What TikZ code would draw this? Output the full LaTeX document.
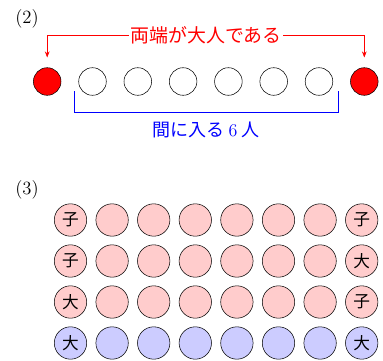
\documentclass[tikz,border=0pt]{standalone}
\usepackage{fontspec}
\newfontfamily\jfont{Noto Sans CJK JP}
\usetikzlibrary{arrows.meta, positioning}

\begin{document}
\begin{tikzpicture}[
  x=0.75pt, y=-0.75pt,
  every node/.style={font=\fontsize{14}{16}\selectfont},
  seat/.style={circle, draw, minimum size=20.7pt, inner sep=0pt},
  adult/.style={seat, fill=red},
  child/.style={seat, fill=white},
  row seat/.style={circle, draw, minimum size=24.3pt, inner sep=0pt, font=\jfont\fontsize{12.5}{14}\selectfont},
  note/.style={font=\jfont\fontsize{14.2}{16}\selectfont, inner sep=1pt}
]
\useasboundingbox (0,0) rectangle (383,361);

% (2)
\node (lab2) at (27,19) {(2)};
\foreach \i in {0,...,7} {
  \ifnum\i=0 \def\kind{adult}\else\ifnum\i=7 \def\kind{adult}\else\def\kind{child}\fi\fi
  \node[\kind] (s\i) at (47.2+45.3*\i,81.5) {};
}
\node[note, text=red, fill=white] (both) at (206,35) {両端が大人である};
\draw[red, -{Stealth[length=4.5pt,width=3.5pt]}, shorten >=7.5pt] (both.west) -| (s0.north);
\draw[red, -{Stealth[length=4.5pt,width=3.5pt]}, shorten >=7.5pt] (both.east) -| (s7.north);
\coordinate (brL) at (74,91);
\coordinate (brR) at (338,91);
\draw[blue] (brL) -- ++(0,21.7) -| (brR);
\node[note, text=blue, font=\jfont\fontsize{13.5}{15}\selectfont] (inner) at (206,130) {間に入る {\rmfamily 6} 人};

% (3)
\node (lab3) at (27,190) {(3)};
\foreach \r/\first/\last/\col in {0/子/子/red!20, 1/子/大/red!20, 2/大/子/red!20, 3/大/大/blue!20} {
  \foreach \j in {0,...,7} {
    \ifnum\j=0 \def\txt{\first}\else\ifnum\j=7 \def\txt{\last}\else\def\txt{}\fi\fi
    \node[row seat, fill=\col] (g\r\j) at (70.5+41.6*\j,220+41*\r) {\txt};
  }
}
\end{tikzpicture}
\end{document}
